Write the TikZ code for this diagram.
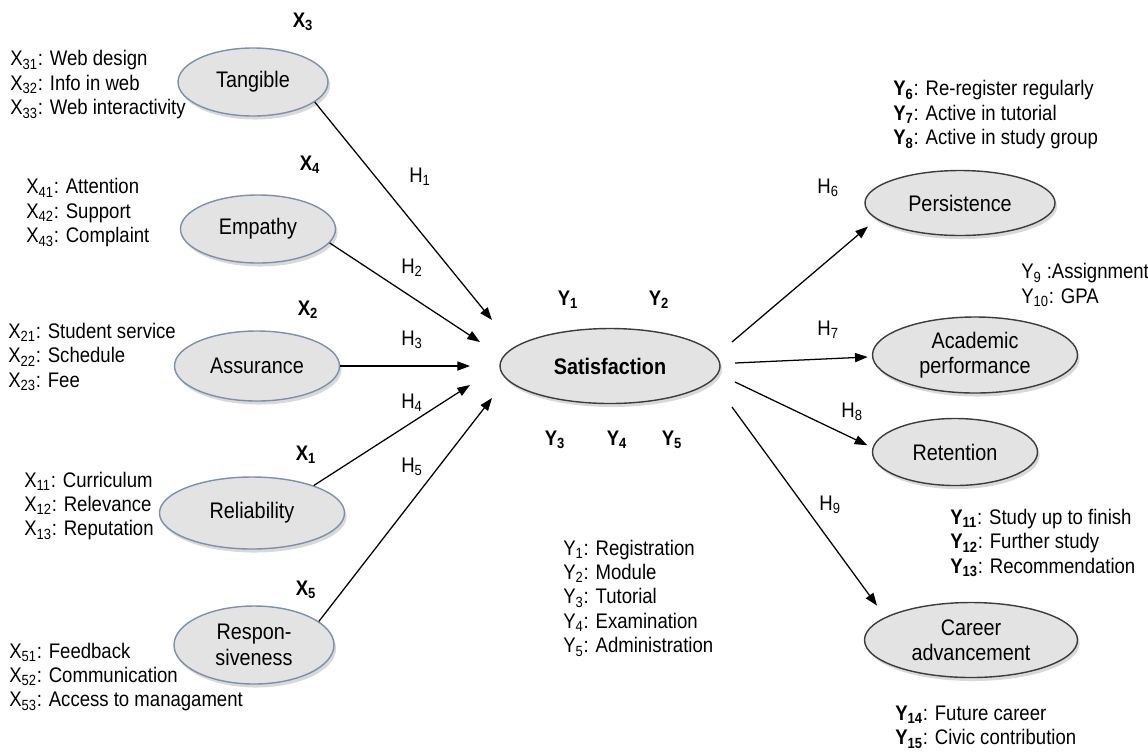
\documentclass[tikz,border=0pt]{standalone}
\usepackage{fontspec}
\setmainfont{Liberation Sans}[FakeStretch=0.88]
\usetikzlibrary{arrows.meta,shapes.geometric,shadows}

\definecolor{ellfill}{HTML}{E3E3E3}
\definecolor{exoline}{HTML}{7D90AA}
\definecolor{endoline}{HTML}{3C3C3C}

\tikzset{
  latent/.style={ellipse, fill=ellfill, line width=1pt, inner sep=0pt, align=center,
    font=\fontsize{16}{18}\selectfont,
    drop shadow={opacity=0.3, shadow xshift=1.5pt, shadow yshift=-2.5pt}},
  exo/.style={latent, draw=exoline},
  endo/.style={latent, draw=endoline},
  dims/.style 2 args={minimum width=#1*0.025cm, minimum height=#2*0.025cm},
  items/.style={anchor=west, align=left, inner sep=0pt, font=\fontsize{15}{17.4}\selectfont},
  ind/.style={font=\bfseries\fontsize{15}{17}\selectfont, inner sep=0pt},
  hyp/.style={font=\fontsize{15}{17}\selectfont, inner sep=0pt},
  path/.style={-{Triangle[length=9pt,width=6.5pt]}, line width=0.9pt}
}

\begin{document}
\begin{tikzpicture}[x=0.025cm, y=-0.025cm]
  \useasboundingbox (0,0) rectangle (1148,752);

  % exogenous constructs
  \node[exo, dims={150}{68}] (tang) at (253,82) {Tangible};
  \node[exo, dims={155}{68}] (emp) at (258,229) {Empathy};
  \node[exo, dims={165}{70}] (assur) at (257,366) {Assurance};
  \node[exo, dims={185}{72}] (reli) at (252,513) {Reliability};
  \node[exo, dims={160}{78}] (resp) at (254,645) {Respon-\\siveness};

  % satisfaction
  \node[endo, dims={220}{75}, font=\bfseries\fontsize{16}{18}\selectfont] (sat) at (610,366) {Satisfaction};

  % outcomes
  \node[endo, dims={190}{65}] (pers) at (960,203) {Persistence};
  \node[endo, dims={205}{76}] (acad) at (975,355) {Academic\\performance};
  \node[endo, dims={165}{67}] (ret) at (955,452) {Retention};
  \node[endo, dims={213}{75}] (career) at (971,640) {Career\\advancement};

  % indicator labels
  \node[ind] (lx3) at (303,22) {X\textsubscript{3}};
  \node[ind] (lx4) at (310,165) {X\textsubscript{4}};
  \node[ind] (lx2) at (308,310) {X\textsubscript{2}};
  \node[ind] (lx1) at (306,455) {X\textsubscript{1}};
  \node[ind] (lx5) at (306,590) {X\textsubscript{5}};

  \node[ind] (ly1) at (568,300) {Y\textsubscript{1}};
  \node[ind] (ly2) at (659,300) {Y\textsubscript{2}};
  \node[ind] (ly3) at (555,440) {Y\textsubscript{3}};
  \node[ind] (ly4) at (617,440) {Y\textsubscript{4}};
  \node[ind] (ly5) at (672,440) {Y\textsubscript{5}};

  % item lists
  \node[items] (itx3) at (10,85) {X\textsubscript{31}: Web design\\X\textsubscript{32}: Info in web\\X\textsubscript{33}: Web interactivity};
  \node[items] (itx4) at (26,213) {X\textsubscript{41}: Attention\\X\textsubscript{42}: Support\\X\textsubscript{43}: Complaint};
  \node[items] (itx2) at (8,357) {X\textsubscript{21}: Student service\\X\textsubscript{22}: Schedule\\X\textsubscript{23}: Fee};
  \node[items] (itx1) at (24,506) {X\textsubscript{11}: Curriculum\\X\textsubscript{12}: Relevance\\X\textsubscript{13}: Reputation};
  \node[items] (itx5) at (9,677) {X\textsubscript{51}: Feedback\\X\textsubscript{52}: Communication\\X\textsubscript{53}: Access to managament};

  \node[items] (ity1) at (563,598) {Y\textsubscript{1}: Registration\\Y\textsubscript{2}: Module\\Y\textsubscript{3}: Tutorial\\Y\textsubscript{4}: Examination\\Y\textsubscript{5}: Administration};
  \node[items] (ity6) at (893,115) {\textbf{Y\textsubscript{6}}: Re-register regularly\\\textbf{Y\textsubscript{7}}: Active in tutorial\\\textbf{Y\textsubscript{8}}: Active in study group};
  \node[items] (ity9) at (1021,285) {Y\textsubscript{9} :Assignment\\Y\textsubscript{10}: GPA};
  \node[items] (ity11) at (950,543) {\textbf{Y\textsubscript{11}}: Study up to finish\\\textbf{Y\textsubscript{12}}: Further study\\\textbf{Y\textsubscript{13}}: Recommendation};
  \node[items] (ity14) at (895,727) {\textbf{Y\textsubscript{14}}: Future career\\\textbf{Y\textsubscript{15}}: Civic contribution};

  % arrow ends near satisfaction
  \coordinate (e1) at (492,320);
  \coordinate (e2) at (480,342);
  \coordinate (e3) at (470,366);
  \coordinate (e4) at (470,385);
  \coordinate (e5) at (492,398);
  \coordinate (s6) at (732,342);
  \coordinate (s7) at (735,363);
  \coordinate (s8) at (735,382);
  \coordinate (s9) at (732,407);

  % hypotheses H1-H5
  \draw[path] (tang.-18) -- (e1);
  \draw[path] (emp.-11) -- (e2);
  \draw[path] (assur.east) -- (e3);
  \draw[path] (reli.24) -- (e4);
  \draw[path] (resp.20) -- (e5);

  % hypotheses H6-H9
  \draw[path, shorten >=8pt] (s6) -- (pers.191);
  \draw[path, shorten >=3pt] (s7) -- (acad.181);
  \draw[path, shorten >=4pt] (s8) -- (ret.177);
  \draw[path, shorten >=10pt] (s9) -- (career.165);

  \node[hyp] (h1) at (420,177) {H\textsubscript{1}};
  \node[hyp] (h2) at (412,268) {H\textsubscript{2}};
  \node[hyp] (h3) at (412,340) {H\textsubscript{3}};
  \node[hyp] (h4) at (412,403) {H\textsubscript{4}};
  \node[hyp] (h5) at (412,467) {H\textsubscript{5}};
  \node[hyp] (h6) at (828,188) {H\textsubscript{6}};
  \node[hyp] (h7) at (828,330) {H\textsubscript{7}};
  \node[hyp] (h8) at (852,412) {H\textsubscript{8}};
  \node[hyp] (h9) at (830,505) {H\textsubscript{9}};
\end{tikzpicture}
\end{document}
